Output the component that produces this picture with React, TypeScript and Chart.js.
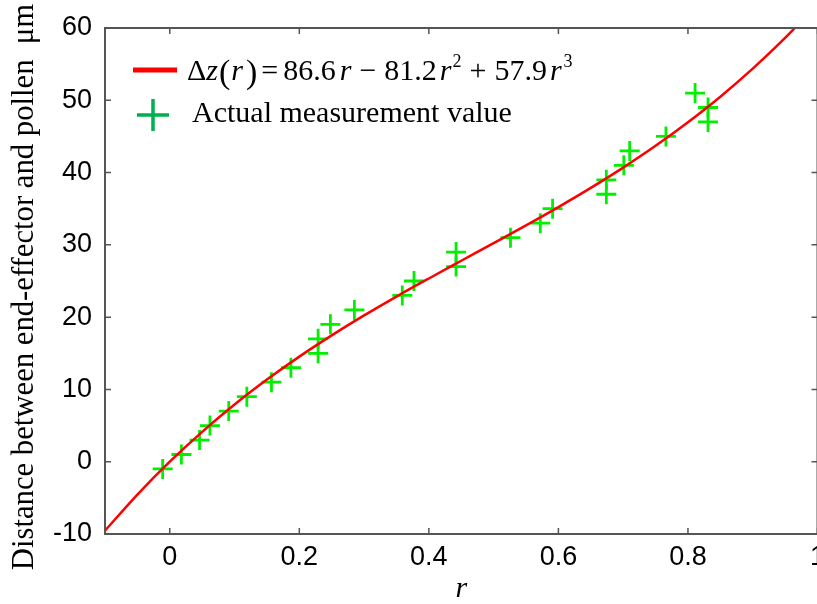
import React, { useEffect, useRef } from "react";
import { Chart, registerables } from "chart.js";

Chart.register(...registerables);

// ---------- data ----------
const fitR = [-0.1, -0.05, 0, 0.05, 0.1, 0.15, 0.2, 0.25, 0.3, 0.35, 0.4, 0.45, 0.5, 0.55, 0.6, 0.65, 0.7, 0.75, 0.8, 0.85, 0.9, 0.95, 1.0];
const fitDz = [-9.53, -4.54, 0, 4.13, 7.91, 11.36, 14.54, 17.48, 20.24, 22.85, 25.35, 27.8, 30.24, 32.7, 35.23, 37.88, 40.69, 43.7, 46.96, 50.5, 54.38, 58.63, 63.3];

const measR = [-0.011, 0.018, 0.046, 0.062, 0.091, 0.119, 0.157, 0.187, 0.229, 0.229, 0.248, 0.285, 0.359, 0.377, 0.442, 0.442, 0.526, 0.572, 0.591, 0.674, 0.674, 0.701, 0.71, 0.766, 0.831, 0.831, 0.811];
const measDz = [-1, 1, 3, 5, 7, 9, 11, 13, 15, 17, 19, 21, 23, 25, 27, 29, 31, 33, 35, 37, 39, 41, 43, 45, 47, 49, 51];

const xTicks = [0, 0.2, 0.4, 0.6, 0.8, 1];
const xTickLabels = ["0", "0.2", "0.4", "0.6", "0.8", "1"];
const yTicks = [-10, 0, 10, 20, 30, 40, 50, 60];
const yTickLabels = ["-10", "0", "10", "20", "30", "40", "50", "60"];

const yTitle = "Distance between end-effector and pollen  \u03bcm";
const xTitle = "r";
const legendMeasured = "Actual measurement value";

// ---------- styling ----------
const SERIF = "'Liberation Serif', 'Times New Roman', serif";
const SANS = "'Liberation Sans', Arial, sans-serif";
const FRAME = "#555555";

type Seg = [string, "n" | "i" | "p" | "s", number];
const eqSegs: Seg[] = [
  ["\u0394", "n", 0],
  ["z", "i", 0],
  ["(", "p", 1],
  ["r", "i", 1],
  [")", "p", 3],
  ["=", "n", 4],
  ["86.6", "n", 5],
  ["r", "i", 4],
  ["\u2212", "n", 8],
  ["81.2", "n", 8],
  ["r", "i", 3],
  ["2", "s", 1],
  ["+", "n", 8],
  ["57.9", "n", 8],
  ["r", "i", 3],
  ["3", "s", 2],
];

const framePlugin = {
  id: "frameTicks",
  afterDatasetsDraw(chart: any) {
    const { ctx, chartArea } = chart;
    const { left, right, top, bottom } = chartArea;
    const xs = chart.scales.x;
    const ys = chart.scales.y;
    ctx.save();
    ctx.strokeStyle = FRAME;
    ctx.lineWidth = 2;
    ctx.strokeRect(left, top, right - left, bottom - top);
    ctx.lineWidth = 1.5;
    const tl = 6;
    ctx.beginPath();
    xs.ticks.forEach((t: any) => {
      const px = xs.getPixelForValue(t.value);
      ctx.moveTo(px, bottom);
      ctx.lineTo(px, bottom - tl);
      ctx.moveTo(px, top);
      ctx.lineTo(px, top + tl);
    });
    ys.ticks.forEach((t: any) => {
      const py = ys.getPixelForValue(t.value);
      ctx.moveTo(left, py);
      ctx.lineTo(left + tl, py);
      ctx.moveTo(right, py);
      ctx.lineTo(right - tl, py);
    });
    ctx.stroke();
    ctx.restore();
  },
};

const yTitlePlugin = {
  id: "yTitleText",
  afterDraw(chart: any) {
    const { ctx, chartArea } = chart;
    ctx.save();
    ctx.translate(chartArea.left - 80, (chartArea.top + chartArea.bottom) / 2 + 6);
    ctx.rotate(-Math.PI / 2);
    ctx.font = `30.7px ${SERIF}`;
    ctx.fillStyle = "#000";
    ctx.textAlign = "center";
    ctx.textBaseline = "middle";
    ctx.fillText(yTitle, 0, 0);
    ctx.restore();
  },
};

const legendPlugin = {
  id: "mathLegend",
  afterDraw(chart: any) {
    const { ctx, chartArea } = chart;
    const L = chartArea.left;
    const T = chartArea.top;
    ctx.save();
    // row 1: red line + equation
    const y1 = T + 42;
    ctx.strokeStyle = "#ff0000";
    ctx.lineWidth = 5;
    ctx.beginPath();
    ctx.moveTo(L + 28, y1);
    ctx.lineTo(L + 72, y1);
    ctx.stroke();
    let x = L + 82;
    const base = y1 + 10;
    ctx.fillStyle = "#000";
    ctx.textBaseline = "alphabetic";
    ctx.textAlign = "left";
    eqSegs.forEach(([text, kind, gap]) => {
      x += gap;
      let font = `30px ${SERIF}`;
      let by = base;
      if (kind === "i") font = `italic 30px ${SERIF}`;
      if (kind === "p") { font = `34px ${SERIF}`; by = base + 3; }
      if (kind === "s") { font = `18px ${SERIF}`; by = base - 13; }
      ctx.font = font;
      ctx.fillText(text, x, by);
      x += ctx.measureText(text).width;
    });
    // row 2: green plus + text
    const y2 = T + 87;
    const cx = L + 48;
    ctx.strokeStyle = "#00b050";
    ctx.lineWidth = 3.5;
    ctx.beginPath();
    ctx.moveTo(cx - 16, y2);
    ctx.lineTo(cx + 16, y2);
    ctx.moveTo(cx, y2 - 16);
    ctx.lineTo(cx, y2 + 16);
    ctx.stroke();
    ctx.font = `30px ${SERIF}`;
    ctx.fillText(legendMeasured, L + 87, y2 + 7);
    ctx.restore();
  },
};

export default function App() {
  const ref = useRef<HTMLCanvasElement>(null);
  useEffect(() => {
    const chart = new Chart(ref.current!, {
      type: "scatter",
      data: {
        datasets: [
          {
            type: "line",
            label: "fit",
            data: fitR.map((r, i) => ({ x: r, y: fitDz[i] })),
            borderColor: "#ff0000",
            borderWidth: 2.5,
            pointRadius: 0,
            cubicInterpolationMode: "monotone",
            fill: false,
          } as any,
          {
            label: legendMeasured,
            data: measR.map((r, i) => ({ x: r, y: measDz[i] })),
            pointStyle: "cross",
            pointRadius: 10,
            borderColor: "#00f000",
            backgroundColor: "#00f000",
            pointBorderWidth: 2.8,
          } as any,
        ],
      },
      options: {
        animation: false,
        responsive: false,
        devicePixelRatio: 1,
        layout: { padding: { left: 0, right: 22.5, top: 28, bottom: 0 } },
        plugins: { legend: { display: false }, tooltip: { enabled: false } },
        scales: {
          x: {
            type: "linear",
            min: -0.1,
            max: 1,
            grid: { display: false, drawTicks: false },
            border: { display: false },
            afterBuildTicks: (s: any) => {
              s.ticks = xTicks.map((v) => ({ value: v }));
            },
            afterFit: (s: any) => {
              s.height = 70;
              s.paddingLeft = 0;
              s.paddingRight = 0;
            },
            ticks: {
              padding: 7,
              maxRotation: 0,
              autoSkip: false,
              color: "#000",
              font: { family: SANS, size: 27 },
              callback: (v: any) => {
                const i = xTicks.findIndex((t) => Math.abs(t - v) < 1e-9);
                return i >= 0 ? xTickLabels[i] : "";
              },
            },
            title: {
              display: true,
              text: xTitle,
              color: "#000",
              font: { family: SERIF, size: 30, style: "italic", lineHeight: 1 },
              padding: { top: 0, bottom: 0 },
            },
          },
          y: {
            type: "linear",
            min: -10,
            max: 60,
            grid: { display: false, drawTicks: false },
            border: { display: false },
            afterBuildTicks: (s: any) => {
              s.ticks = yTicks.map((v) => ({ value: v }));
            },
            afterFit: (s: any) => {
              s.width = 105;
              s.paddingTop = 0;
              s.paddingBottom = 0;
            },
            ticks: {
              padding: 13,
              autoSkip: false,
              color: "#000",
              font: { family: SANS, size: 27 },
              callback: (v: any) => {
                const i = yTicks.findIndex((t) => Math.abs(t - v) < 1e-9);
                return i >= 0 ? yTickLabels[i] : "";
              },
            },
            title: { display: false },
          },
        },
      },
      plugins: [framePlugin, legendPlugin, yTitlePlugin],
    } as any);
    return () => chart.destroy();
  }, []);
  return (
    <div
      style={{
        position: "fixed",
        left: 0,
        top: 0,
        width: 817,
        height: 604,
        overflow: "hidden",
        background: "#fff",
      }}
    >
      <canvas ref={ref} width={840} height={604} style={{ display: "block", width: 840, height: 604 }} />
    </div>
  );
}
